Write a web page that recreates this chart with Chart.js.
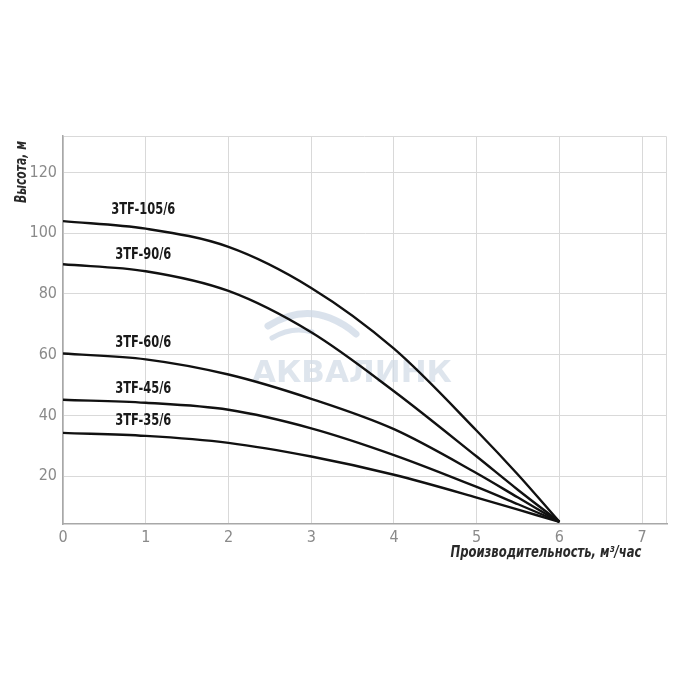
<!DOCTYPE html>
<html>
<head>
<meta charset="utf-8">
<script src="https://cdn.jsdelivr.net/npm/chart.js@4"></script>
<style>
  html, body { margin: 0; padding: 0; background: #fff; }
  #wrap { width: 700px; height: 700px; }
</style>
</head>
<body>
<div id="wrap"><canvas id="pumpChart" width="700" height="700"></canvas></div>
<script>
// Подача, м3/час
const flow = [0, 1, 2, 3, 4, 5, 5.5, 6];
// Напор для каждой модели, м
const head105 = [104, 101.5, 95.5, 82, 62, 35, 20.5, 5];
const head90 = [89.8, 87.5, 81, 67.4, 48, 26.5, 15.5, 5];
const head60 = [60.4, 58.5, 53.5, 45.5, 35.5, 21, 13, 5];
const head45 = [45.2, 44.2, 41.9, 35.8, 27, 16.5, 10.8, 5];
const head35 = [34.3, 33.3, 31, 26.5, 20.5, 13, 9, 5];

const modelNames = ['3TF-105/6', '3TF-90/6', '3TF-60/6', '3TF-45/6', '3TF-35/6'];
const labelX = [0.97, 0.97, 0.97, 0.97, 0.97];
const labelY = [107.6, 92.7, 63.7, 48.8, 38.3];

const xTicks = [0, 1, 2, 3, 4, 5, 6, 7];
const yTicks = [20, 40, 60, 80, 100, 120];

const narrow = "'Liberation Sans Narrow', 'DejaVu Sans Condensed', 'Roboto', sans-serif";

function serie(values) {
    return {
        data: flow.map((x, i) => ({ x: x, y: values[i] })),
        borderColor: '#111',
        borderWidth: 2.4,
        pointRadius: 0,
        fill: false,
        cubicInterpolationMode: 'monotone'
    };
}

// текст со сжатием по горизонтали
function condensedText(c, text, x, y, font, sx, angle) {
    c.save();
    c.translate(x, y);
    if (angle) c.rotate(angle);
    c.scale(sx, 1);
    c.font = font;
    c.fillText(text, 0, 0);
    c.restore();
}

// Водяной знак, подписи кривых и названия осей
const decorPlugin = {
    id: 'decor',
    beforeDatasetsDraw(chart) {
        const ctx = chart.ctx;
        ctx.save();
        // волны логотипа
        ctx.strokeStyle = 'rgba(205, 216, 229, 0.75)';
        ctx.lineCap = 'round';
        ctx.lineWidth = 7;
        ctx.beginPath();
        ctx.moveTo(268, 326);
        ctx.quadraticCurveTo(300, 306, 330, 318);
        ctx.quadraticCurveTo(345, 324, 356, 334);
        ctx.stroke();
        ctx.lineWidth = 5;
        ctx.beginPath();
        ctx.moveTo(272, 338);
        ctx.quadraticCurveTo(292, 326, 312, 332);
        ctx.stroke();
        // текст логотипа
        ctx.fillStyle = 'rgba(208, 218, 229, 0.7)';
        ctx.font = "bold 31px 'DejaVu Sans', sans-serif";
        ctx.textAlign = 'center';
        ctx.textBaseline = 'middle';
        ctx.fillText('АКВАЛИНК', 352, 374);
        ctx.restore();
    },
    afterDatasetsDraw(chart) {
        const ctx = chart.ctx;
        const xs = chart.scales.x;
        const ys = chart.scales.y;
        ctx.save();
        ctx.fillStyle = '#1a1a1a';
        ctx.textAlign = 'center';
        ctx.textBaseline = 'middle';
        modelNames.forEach((name, i) => {
            condensedText(ctx, name, xs.getPixelForValue(labelX[i]), ys.getPixelForValue(labelY[i]),
                '600 15px ' + narrow, 0.85);
        });
        // названия осей
        ctx.fillStyle = '#2a2a2a';
        condensedText(ctx, 'Производительность, м³/час', 546, 553, 'italic 600 15px ' + narrow, 0.86);
        condensedText(ctx, 'Высота, м', 22, 172, 'italic 600 15px ' + narrow, 0.8, -Math.PI / 2);
        ctx.restore();
    }
};

const ctx = document.getElementById('pumpChart').getContext('2d');
new Chart(ctx, {
    type: 'line',
    data: {
        datasets: [serie(head105), serie(head90), serie(head60), serie(head45), serie(head35)]
    },
    options: {
        responsive: false,
        animation: false,
        layout: { padding: { top: 136, right: 33, bottom: 146, left: 0 } },
        plugins: {
            legend: { display: false },
            tooltip: { enabled: false }
        },
        scales: {
            x: {
                type: 'linear',
                min: 0,
                max: 7.3,
                afterBuildTicks: function (axis) {
                    axis.ticks = xTicks.map(v => ({ value: v }));
                },
                afterFit: function (axis) { axis.height = 30; },
                grid: { color: '#d9d9d9', lineWidth: 1, drawTicks: false },
                border: { color: '#a8a8a8', width: 1.5 },
                ticks: {
                    color: '#8a8a8a',
                    padding: 4,
                    font: { family: narrow, size: 16 }
                }
            },
            y: {
                type: 'linear',
                min: 4.3,
                max: 132,
                afterBuildTicks: function (axis) {
                    axis.ticks = yTicks.map(v => ({ value: v }));
                },
                afterFit: function (axis) { axis.width = 63; },
                grid: { color: '#d9d9d9', lineWidth: 1, drawTicks: false },
                border: { color: '#a8a8a8', width: 1.5 },
                ticks: {
                    color: '#8a8a8a',
                    padding: 6,
                    font: { family: narrow, size: 16 }
                }
            }
        }
    },
    plugins: [decorPlugin, {
        id: 'frame',
        beforeDraw(chart) {
            // верхняя и правая рамка
            const a = chart.chartArea;
            const c = chart.ctx;
            c.save();
            c.strokeStyle = '#d9d9d9';
            c.lineWidth = 1;
            c.beginPath();
            c.moveTo(a.left, a.top + 0.5);
            c.lineTo(a.right - 0.5, a.top + 0.5);
            c.lineTo(a.right - 0.5, a.bottom);
            c.stroke();
            c.restore();
        }
    }]
});
</script>
</body>
</html>
